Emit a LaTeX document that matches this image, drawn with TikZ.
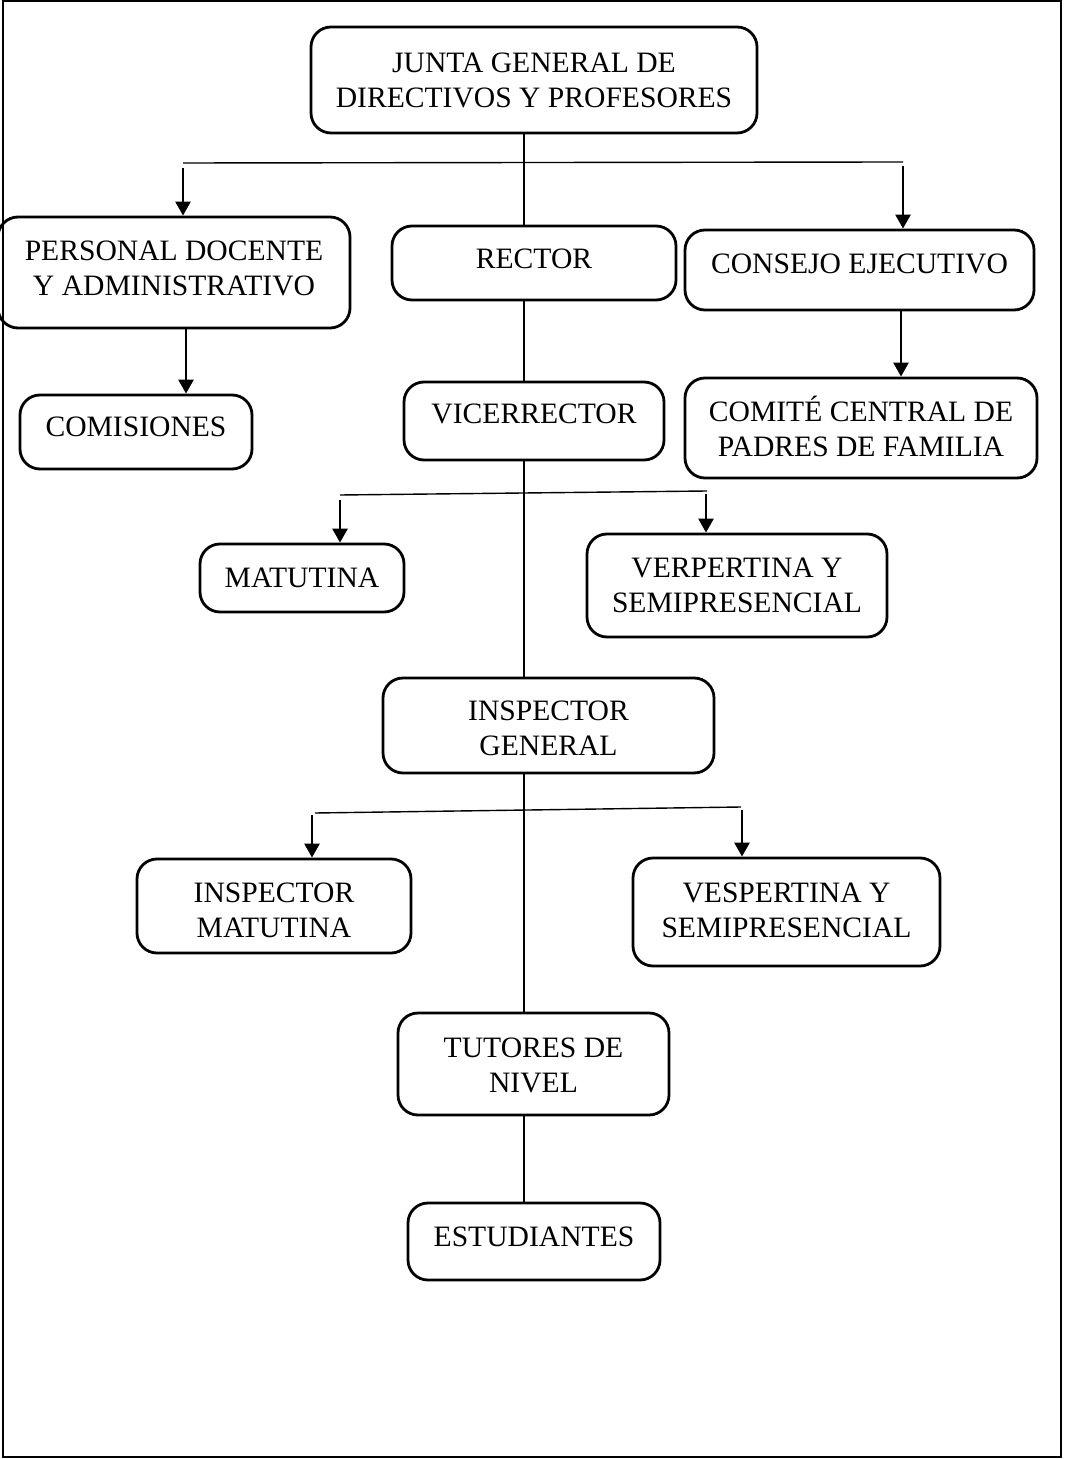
\documentclass[tikz,border=0pt]{standalone}
\usepackage{fontspec}
\setmainfont{Liberation Serif}
\usetikzlibrary{arrows.meta}
% Box placed by its corners (x1,y1)-(x2,y2), in drawing units;
% the last argument moves the text down (+) or up (-) inside the box
\newcommand\orgbox[7]{%
  \pgfmathsetmacro\bcx{(#2+#4)/2}\pgfmathsetmacro\bcy{(#3+#5)/2}%
  \pgfmathsetmacro\bw{(#4-#2)/2}\pgfmathsetmacro\bh{(#5-#3)/2}%
  \pgfmathsetmacro\bty{\bcy+#7}%
  \node[box,minimum width=\bw pt,minimum height=\bh pt] (#1) at (\bcx,\bcy) {};
  \node[boxtext] (#1-text) at (\bcx,\bty) {#6};}
\begin{document}
\begin{tikzpicture}[x=0.5pt,y=-0.5pt,
  box/.style={draw,line width=1.4pt,rounded corners=10pt,inner sep=0pt},
  boxtext/.style={align=center,inner sep=0pt,font=\fontsize{14.8}{17.5}\selectfont},
  link/.style={line width=0.7pt},
  arr/.style={line width=1.3pt,-{Triangle[length=7pt,width=7.5pt]}}]
\useasboundingbox (0,0) rectangle (1064,1459);
\draw[line width=1pt] (3,1) rectangle (1061,1457);

\orgbox{junta}{311}{27}{757}{133}{JUNTA GENERAL DE\\DIRECTIVOS Y PROFESORES}{0}
\orgbox{personal}{-2}{217}{350}{328}{PERSONAL DOCENTE\\Y ADMINISTRATIVO}{-4}
\orgbox{rector}{392}{226}{676}{300}{RECTOR}{-4}
\orgbox{consejo}{685}{230}{1034}{310}{CONSEJO EJECUTIVO}{-6}
\orgbox{comisiones}{20}{395}{252}{469}{COMISIONES}{-5}
\orgbox{vice}{404}{382}{664}{460}{VICERRECTOR}{-7}
\orgbox{comite}{685}{378}{1037}{478}{COMITÉ CENTRAL DE\\PADRES DE FAMILIA}{-2}
\orgbox{matutina}{200}{544}{404}{612}{MATUTINA}{0}
\orgbox{verpertina}{587}{534}{887}{637}{VERPERTINA Y\\SEMIPRESENCIAL}{0}
\orgbox{insgen}{383}{678}{714}{773}{INSPECTOR\\GENERAL}{3}
\orgbox{insmat}{137}{859}{411}{953}{INSPECTOR\\MATUTINA}{4}
\orgbox{vesp}{633}{858}{940}{966}{VESPERTINA Y\\SEMIPRESENCIAL}{-2}
\orgbox{tutores}{398}{1013}{669}{1115}{TUTORES DE\\NIVEL}{1}
\orgbox{estud}{408}{1203}{660}{1280}{ESTUDIANTES}{-5}

% main vertical spine
\coordinate (cx) at (524,0);
\draw[link] (junta.south -| cx) -- (rector.north -| cx);
\draw[link] (rector.south -| cx) -- (vice.north -| cx);
\draw[link] (vice.south -| cx) -- (insgen.north -| cx);
\draw[link] (insgen.south -| cx) -- (tutores.north -| cx);
\draw[link] (tutores.south -| cx) -- (estud.north -| cx);

% first branch bar
\coordinate (h1l) at (183,163); \coordinate (h1r) at (903,162);
\draw[link] (h1l) -- (h1r);
\coordinate (a1) at (183,168); \coordinate (a2) at (903,166);
\draw[arr] (a1) -- (a1 |- personal.north);
\draw[arr] (a2) -- (a2 |- consejo.north);

\coordinate (a3) at (186,0); \coordinate (a4) at (901,0);
\draw[arr] (personal.south -| a3) -- (comisiones.north -| a3);
\draw[arr] (consejo.south -| a4) -- (comite.north -| a4);

% second branch bar
\coordinate (h2l) at (340,495); \coordinate (h2r) at (707,491);
\draw[link] (h2l) -- (h2r);
\coordinate (b1) at (340,500); \coordinate (b2) at (706,494);
\draw[arr] (b1) -- (b1 |- matutina.north);
\draw[arr] (b2) -- (b2 |- verpertina.north);

% third branch bar
\coordinate (h3l) at (315,813); \coordinate (h3r) at (741,807);
\draw[link] (h3l) -- (h3r);
\coordinate (c1) at (312,815); \coordinate (c2) at (742,810);
\draw[arr] (c1) -- (c1 |- insmat.north);
\draw[arr] (c2) -- (c2 |- vesp.north);
\end{tikzpicture}
\end{document}
